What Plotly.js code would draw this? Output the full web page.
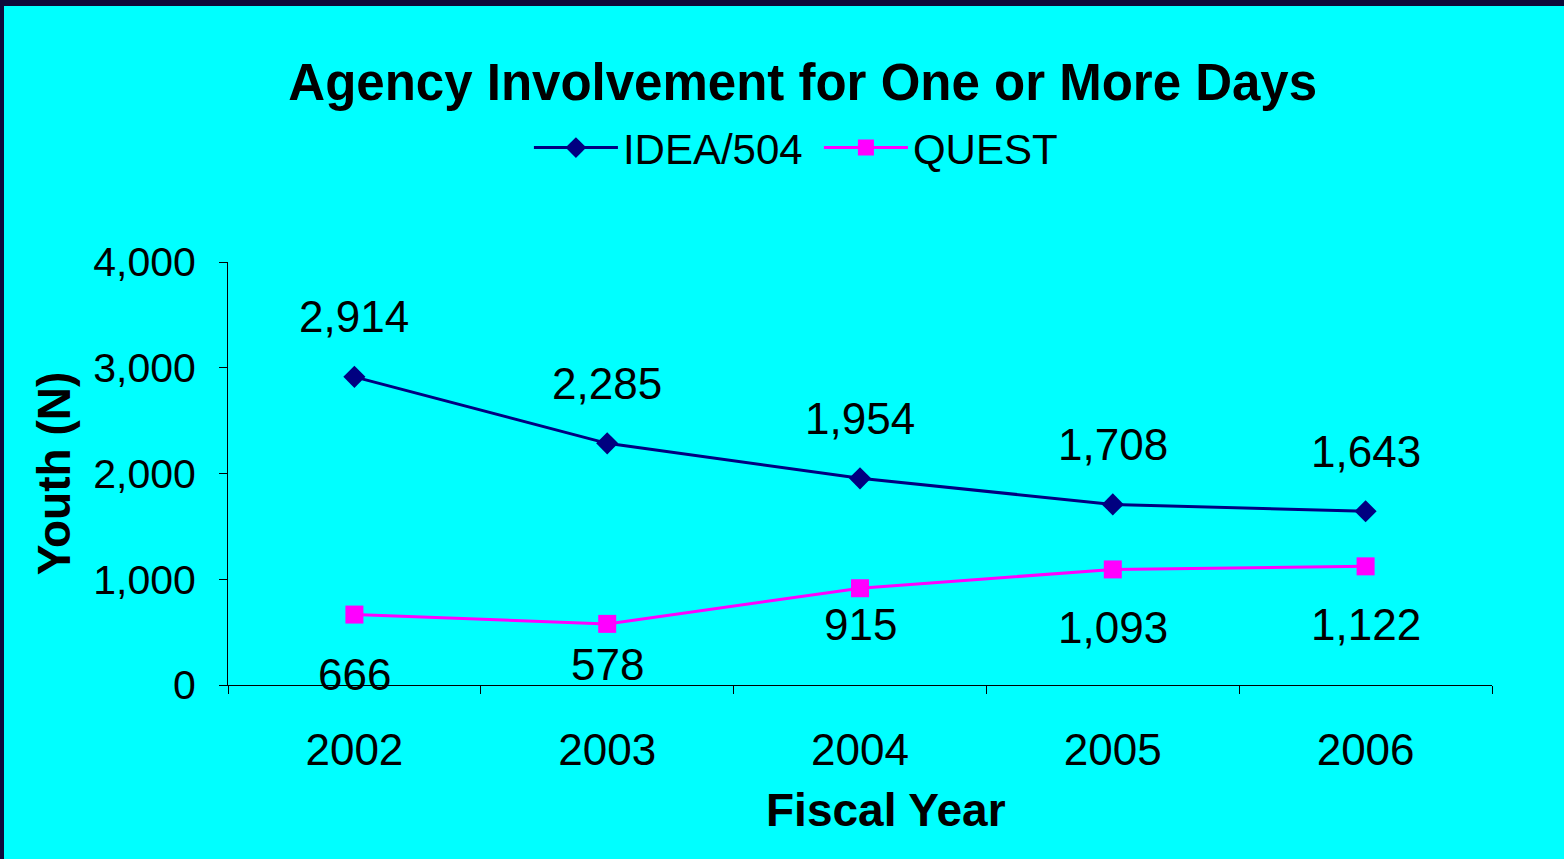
<!DOCTYPE html>
<html>
<head>
<meta charset="utf-8">
<script src="https://cdn.plot.ly/plotly-3.0.1.min.js"></script>
<style>
  html, body { margin: 0; padding: 0; background: #0e0b3a; width: 1564px; height: 859px; overflow: hidden; }
  #chart { position: absolute; left: 4px; top: 6px; width: 1560px; height: 853px; }
</style>
</head>
<body>
<div id="chart"></div>
<script>
// ---- data ----
const years = ['2002', '2003', '2004', '2005', '2006'];
const ideaValues = [2914, 2285, 1954, 1708, 1643];
const questValues = [666, 578, 915, 1093, 1122];
const seriesNames = ['IDEA/504', 'QUEST'];
const yTickValues = [0, 1000, 2000, 3000, 4000];

// ---- styling (label pixel offsets, as placed in the original) ----
const ideaLabelShift = [60, 60, 60, 60, 60];
const questLabelShift = [-60, -41, -36, -58, -58];

const FONT = 'Arial, "Liberation Sans", sans-serif';
const NAVY = '#000080';
const PINK = '#FF00FF';

const fmt = v => v.toLocaleString('en-US');

const traces = [
  {
    x: years, y: ideaValues, name: seriesNames[0], type: 'scatter', mode: 'lines+markers',
    line: { color: NAVY, width: 3 },
    marker: { symbol: 'diamond', size: 17, color: NAVY }
  },
  {
    x: years, y: questValues, name: seriesNames[1], type: 'scatter', mode: 'lines+markers',
    line: { color: PINK, width: 3 },
    marker: { symbol: 'square', size: 18, color: PINK }
  }
];

// category axis: annotations use the category serial number
const annotations = [];
years.forEach((yr, i) => {
  annotations.push({
    x: i, y: ideaValues[i], xref: 'x', yref: 'y', text: fmt(ideaValues[i]),
    showarrow: false, yanchor: 'middle', xanchor: 'center', yshift: ideaLabelShift[i],
    font: { family: FONT, size: 44, color: '#000' }
  });
  annotations.push({
    x: i, y: questValues[i], xref: 'x', yref: 'y', text: fmt(questValues[i]),
    showarrow: false, yanchor: 'middle', xanchor: 'center', yshift: questLabelShift[i],
    font: { family: FONT, size: 44, color: '#000' }
  });
});

annotations.push({
  text: '<b>Fiscal Year</b>', xref: 'paper', yref: 'paper', x: 0.5206, y: -0.2955,
  xanchor: 'center', yanchor: 'middle', showarrow: false,
  font: { family: FONT, size: 46, color: '#000' }
});

const layout = {
  width: 1560, height: 853,
  paper_bgcolor: '#00FFFF', plot_bgcolor: '#00FFFF',
  margin: { l: 224, r: 72, t: 256, b: 174 },
  font: { family: FONT, color: '#000' },
  title: {
    text: '<b>Agency Involvement for One or More Days</b>',
    font: { family: FONT, size: 51, color: '#000' },
    x: 0.512, xanchor: 'center', xref: 'container',
    y: 0.9105, yanchor: 'middle', yref: 'container'
  },
  showlegend: true,
  legend: {
    orientation: 'h', x: 0.4675, xanchor: 'center', y: 1.27, yanchor: 'middle',
    font: { family: FONT, size: 42, color: '#000' },
    bgcolor: 'rgba(0,0,0,0)', itemwidth: 84, traceorder: 'normal',
    entrywidth: 191, entrywidthmode: 'pixels'
  },
  xaxis: {
    type: 'category', range: [-0.5, 4.5], showline: true, linecolor: '#000', linewidth: 1,
    ticks: 'outside', ticklen: 8, tickcolor: '#000', tickwidth: 1,
    tickson: 'boundaries', showgrid: false, zeroline: false, tickangle: 0,
    tickfont: { family: FONT, size: 44, color: '#000' },
    ticklabelstandoff: 26
  },
  yaxis: {
    range: [0, 4000], tickvals: yTickValues, tickformat: ',d',
    showline: true, linecolor: '#000', linewidth: 1,
    ticks: 'outside', ticklen: 8, tickcolor: '#000', tickwidth: 1,
    showgrid: false, zeroline: false,
    tickfont: { family: FONT, size: 41, color: '#000' },
    ticklabelstandoff: 15,
    title: { text: '<b>Youth (N)</b>', font: { family: FONT, size: 46, color: '#000' }, standoff: 8 }
  },
  annotations: annotations
};

Plotly.newPlot('chart', traces, layout, { displayModeBar: false, staticPlot: true });
</script>
</body>
</html>
